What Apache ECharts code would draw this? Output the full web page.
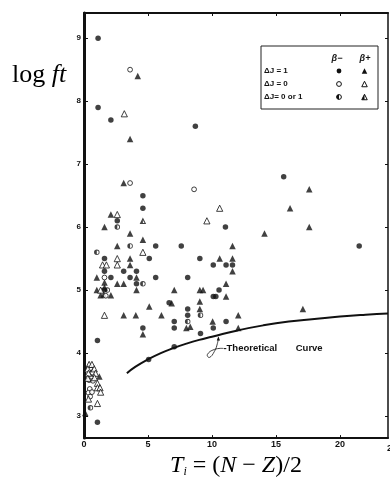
<!DOCTYPE html>
<html>
<head>
<meta charset="utf-8">
<script src="https://cdn.jsdelivr.net/npm/echarts@6/dist/echarts.min.js"></script>
<style>
html,body{margin:0;padding:0;background:#fff;}
#c{width:390px;height:483px;}
</style>
</head>
<body>
<div id="c"></div>
<script>
// ---------- data ----------
const xTicks = [0, 5, 10, 15, 20];
const yTicks = [3, 4, 5, 6, 7, 8, 9];

// ΔJ = 1, β−  (filled circle)
const dj1Minus = [
  [1.1,9.0],[1.1,7.9],[2.1,7.7],[8.7,7.6],
  [4.6,6.5],[4.6,6.3],[2.6,6.1],[11.05,6.0],
  [5.6,5.7],[7.6,5.7],
  [1.6,5.5],[5.1,5.5],[9.05,5.5],
  [10.1,5.4],[11.1,5.4],[11.6,5.4],
  [1.6,5.3],[3.1,5.3],[4.1,5.3],
  [2.1,5.2],[3.6,5.2],[5.6,5.2],[8.1,5.2],
  [4.1,5.1],
  [1.55,5.0],[10.55,5.0],
  [10.1,4.9],[10.3,4.9],
  [6.65,4.8],
  [8.1,4.7],[8.1,4.6],
  [7.05,4.5],[11.1,4.5],
  [4.6,4.4],[7.05,4.4],[10.1,4.4],
  [9.1,4.31],
  [1.05,4.2],
  [7.05,4.1],[5.05,3.9],
  [1.05,2.9],
  [15.6,6.8],[21.5,5.7]
];
// ΔJ = 1, β+  (filled triangle)
const dj1Plus = [
  [4.2,8.4],[3.6,7.4],
  [3.1,6.7],
  [2.1,6.2],[1.6,6.0],
  [3.6,5.9],[4.6,5.8],
  [2.6,5.7],[11.6,5.7],
  [3.6,5.5],[10.6,5.5],[11.6,5.5],
  [3.6,5.4],[11.6,5.3],
  [1.0,5.2],[4.1,5.2],
  [1.6,5.12],[2.6,5.1],[3.1,5.1],[11.1,5.1],
  [1.0,5.0],[1.6,5.04],[4.1,5.0],[7.05,5.0],[9.05,5.0],[9.3,5.0],
  [1.3,4.92],[1.55,4.93],[2.1,4.92],
  [11.1,4.9],
  [9.05,4.82],[6.85,4.79],
  [5.1,4.74],
  [9.05,4.7],[17.1,4.7],
  [3.1,4.6],[4.05,4.6],[6.05,4.6],[12.05,4.6],
  [10.05,4.5],
  [8.0,4.4],[8.3,4.42],[12.05,4.4],
  [4.6,4.3],
  [1.2,3.63],[0.1,3.05],
  [17.6,6.6],[16.1,6.3],[17.6,6.0],[14.1,5.9]
];
// ΔJ = 0, β−  (open circle)
const dj0Minus = [
  [3.6,8.5],[3.6,6.7],[8.6,6.6],[1.6,5.2],[1.7,4.91],
  [0.5,3.76],[0.65,3.69],[0.55,3.61],[0.4,3.57],[0.7,3.56],
  [0.45,3.43],[0.35,3.37],[0.62,3.38],[0.48,3.31]
];
// ΔJ = 0, β+  (open triangle)
const dj0Plus = [
  [3.15,7.8],[2.6,6.2],[10.6,6.3],[9.6,6.1],[4.6,5.6],
  [2.6,5.5],[1.45,5.4],[1.75,5.4],[2.6,5.4],[1.3,5.0],[1.6,4.6],
  [0.4,3.82],[0.62,3.82],[0.3,3.75],[0.8,3.75],[0.35,3.68],[0.9,3.68],
  [0.3,3.6],[0.82,3.61],[1.05,3.52],[1.05,3.45],[1.25,3.45],[1.3,3.38],
  [0.35,3.27],[1.05,3.2]
];
// ΔJ = 0 or 1, β−  (half-filled circle)
const dj01Minus = [
  [2.6,6.0],[3.6,5.7],[1.0,5.6],[4.6,5.1],[1.82,5.0],[8.1,4.5],[9.1,4.6],[0.5,3.13]
];
// ΔJ = 0 or 1, β+  (half-filled triangle)
const dj01Plus = [
  [4.6,6.1]
];
// Theoretical curve
const curve = [
  [3.35,3.68],[4,3.78],[5,3.9],[6,4.0],[7,4.08],[8,4.15],[9,4.21],[10,4.26],
  [12,4.36],[14,4.44],[16,4.5],[18,4.54],[20,4.58],[22,4.61],[23.75,4.63]
];

// ---------- symbols ----------
const halfCircle = 'path://M0,-10A10,10,0,1,1,0,10A10,10,0,1,1,0,-10ZM0,-7A7,7,0,1,0,0,7A7,7,0,1,0,0,-7ZM0,-7A7,7,0,0,0,0,7Z';
const halfTri = 'path://M0,-10L10,8L-10,8ZM0,-3L-5,5L5,5ZM0,-3L0,5L-5,5Z';
const INK = '#111';
const sans = '"Liberation Sans", Arial, sans-serif';
const serif = '"Liberation Serif", "Times New Roman", serif';

const chart = echarts.init(document.getElementById('c'), null, {renderer:'canvas'});

function sc(name, data, symbol, size, style) {
  return {
    name, type:'scatter', data, symbol, symbolSize:size,
    itemStyle: style, z: 3, silent: true, animation: false
  };
}

const option = {
  backgroundColor:'#fff',
  animation:false,
  grid:{left:84, right:2, top:13, bottom:40, containLabel:false},
  xAxis:[{
    type:'value', min:0, max:23.75, position:'bottom',
    axisLine:{show:true, onZero:false, lineStyle:{color:INK, width:2}},
    axisTick:{show:true, inside:true, length:3, customValues:xTicks, lineStyle:{color:INK}},
    axisLabel:{customValues:xTicks, margin:2, color:INK, fontSize:9, fontWeight:'bold', fontFamily:sans},
    splitLine:{show:false},
    name:'{it|T}{sub|i}{rm| = (}{it|N}{rm| − }{it|Z}{rm|)/2}',
    nameLocation:'middle', nameGap:9,
    nameTextStyle:{
      rich:{
        it:{fontFamily:serif, fontStyle:'italic', fontSize:24, color:'#000'},
        rm:{fontFamily:serif, fontSize:24, color:'#000'},
        sub:{fontFamily:serif, fontStyle:'italic', fontSize:12, color:'#000', verticalAlign:'bottom', padding:[12,0,0,0]}
      }
    }
  },{
    type:'value', min:0, max:23.75, position:'top',
    axisLine:{show:true, onZero:false, lineStyle:{color:INK, width:2}},
    axisTick:{show:true, inside:true, length:3, customValues:xTicks, lineStyle:{color:INK}},
    axisLabel:{show:false}, splitLine:{show:false}
  }],
  yAxis:[{
    type:'value', min:2.65, max:9.4, position:'left',
    axisLine:{show:true, onZero:false, lineStyle:{color:INK, width:3}},
    axisTick:{show:true, inside:true, length:4, customValues:yTicks, lineStyle:{color:INK}},
    axisLabel:{customValues:yTicks, margin:3, color:INK, fontSize:8, fontWeight:'bold', fontFamily:sans},
    splitLine:{show:false}
  },{
    type:'value', min:2.65, max:9.4, position:'right',
    axisLine:{show:true, onZero:false, lineStyle:{color:INK, width:1.5}},
    axisTick:{show:true, inside:true, length:3, customValues:yTicks, lineStyle:{color:INK}},
    axisLabel:{show:false}, splitLine:{show:false}
  }],
  series:[
    {
      name:'Theoretical Curve', type:'line', data:curve, smooth:true, showSymbol:false,
      lineStyle:{color:INK, width:2}, z:2, silent:true, animation:false
    },
    sc('ΔJ = 1, β−', dj1Minus, 'circle', 5.5, {color:INK}),
    sc('ΔJ = 1, β+', dj1Plus, 'triangle', 6.5, {color:INK}),
    sc('ΔJ = 0, β−', dj0Minus, 'circle', 4.8, {color:'#fff', borderColor:INK, borderWidth:1}),
    sc('ΔJ = 0, β+', dj0Plus, 'triangle', 6.2, {color:'#fff', borderColor:INK, borderWidth:1}),
    sc('ΔJ = 0 or 1, β−', dj01Minus, halfCircle, 5.5, {color:INK}),
    sc('ΔJ = 0 or 1, β+', dj01Plus, halfTri, 6.5, {color:INK})
  ]
};
chart.setOption(option);

// ---------- annotations / legend table ----------
const g = [];
// y-axis title
g.push({type:'text', left:12, top:62, style:{
  text:'{a|log }{b|ft}',
  rich:{a:{fontFamily:serif, fontSize:26, fill:'#000'}, b:{fontFamily:serif, fontSize:26, fontStyle:'italic', fill:'#000'}}
}});
// clipped tick label at right edge
g.push({type:'text', x:392, y:449, style:{text:'25', font:'bold 9px "Liberation Sans", Arial, sans-serif', fill:INK, align:'center', verticalAlign:'middle'}});

// legend box
const legendRows = [
  {label:'ΔJ = 1',     y:71, kind:'filled'},
  {label:'ΔJ = 0',     y:84, kind:'open'},
  {label:'ΔJ= 0 or 1', y:97, kind:'half'}
];
g.push({type:'rect', z:10, shape:{x:261, y:46, width:117, height:63}, style:{fill:'#fff', stroke:'#222', lineWidth:1}});
g.push({type:'text', x:337, y:59, z:11, style:{text:'β−', font:'italic bold 9px "Liberation Sans", Arial, sans-serif', fill:INK, align:'center', verticalAlign:'middle'}});
g.push({type:'text', x:365, y:59, z:11, style:{text:'β+', font:'italic bold 9px "Liberation Sans", Arial, sans-serif', fill:INK, align:'center', verticalAlign:'middle'}});

function circleKey(cx, cy, r, kind) {
  const out = [];
  if (kind === 'filled') {
    out.push({type:'circle', z:11, shape:{cx, cy, r}, style:{fill:INK}});
  } else {
    out.push({type:'circle', z:11, shape:{cx, cy, r}, style:{fill:'#fff', stroke:INK, lineWidth:1}});
    if (kind === 'half') {
      out.push({type:'sector', z:12, shape:{cx, cy, r0:0, r:r, startAngle:Math.PI/2, endAngle:Math.PI*1.5, clockwise:true}, style:{fill:INK}});
    }
  }
  return out;
}
function triKey(cx, cy, s, kind) {
  const h = s/2;
  const pts = [[cx, cy-h],[cx+h, cy+h],[cx-h, cy+h]];
  const out = [];
  if (kind === 'filled') {
    out.push({type:'polygon', z:11, shape:{points:pts}, style:{fill:INK}});
  } else {
    out.push({type:'polygon', z:11, shape:{points:pts}, style:{fill:'#fff', stroke:INK, lineWidth:1}});
    if (kind === 'half') {
      out.push({type:'polygon', z:12, shape:{points:[[cx, cy-h],[cx, cy+h],[cx-h, cy+h]]}, style:{fill:INK}});
    }
  }
  return out;
}
legendRows.forEach(r => {
  g.push({type:'text', x:264, y:r.y, z:11, style:{text:r.label, font:'bold 8px "Liberation Sans", Arial, sans-serif', fill:INK, verticalAlign:'middle'}});
  circleKey(339, r.y, 2.4, r.kind).forEach(e => g.push(e));
  triKey(364.5, r.y, 5.5, r.kind).forEach(e => g.push(e));
});

// "Theoretical Curve" label and leader, anchored to data coordinates
const tip = chart.convertToPixel({gridIndex:0}, [10.5, 4.28]);
const tx = tip[0], ty = tip[1];
g.push({type:'text', x:tx+5, y:ty+13, z:11, style:{
  text:'-Theoretical       Curve', font:'bold 9.5px "Liberation Sans", Arial, sans-serif', fill:INK, verticalAlign:'middle'}});
g.push({type:'polyline', z:11, shape:{smooth:0.5, points:[
  [tx+5, ty+13],[tx-4, ty+14],[tx-11, ty+19],[tx-9, ty+22],[tx-4, ty+16],[tx-1, ty+8],[tx, ty+2]
]}, style:{stroke:INK, lineWidth:0.8, fill:null}});
g.push({type:'polygon', z:11, shape:{points:[[tx, ty+1],[tx-1.6, ty+5],[tx+1.6, ty+5]]}, style:{fill:INK}});

chart.setOption({graphic: g});
</script>
</body>
</html>
